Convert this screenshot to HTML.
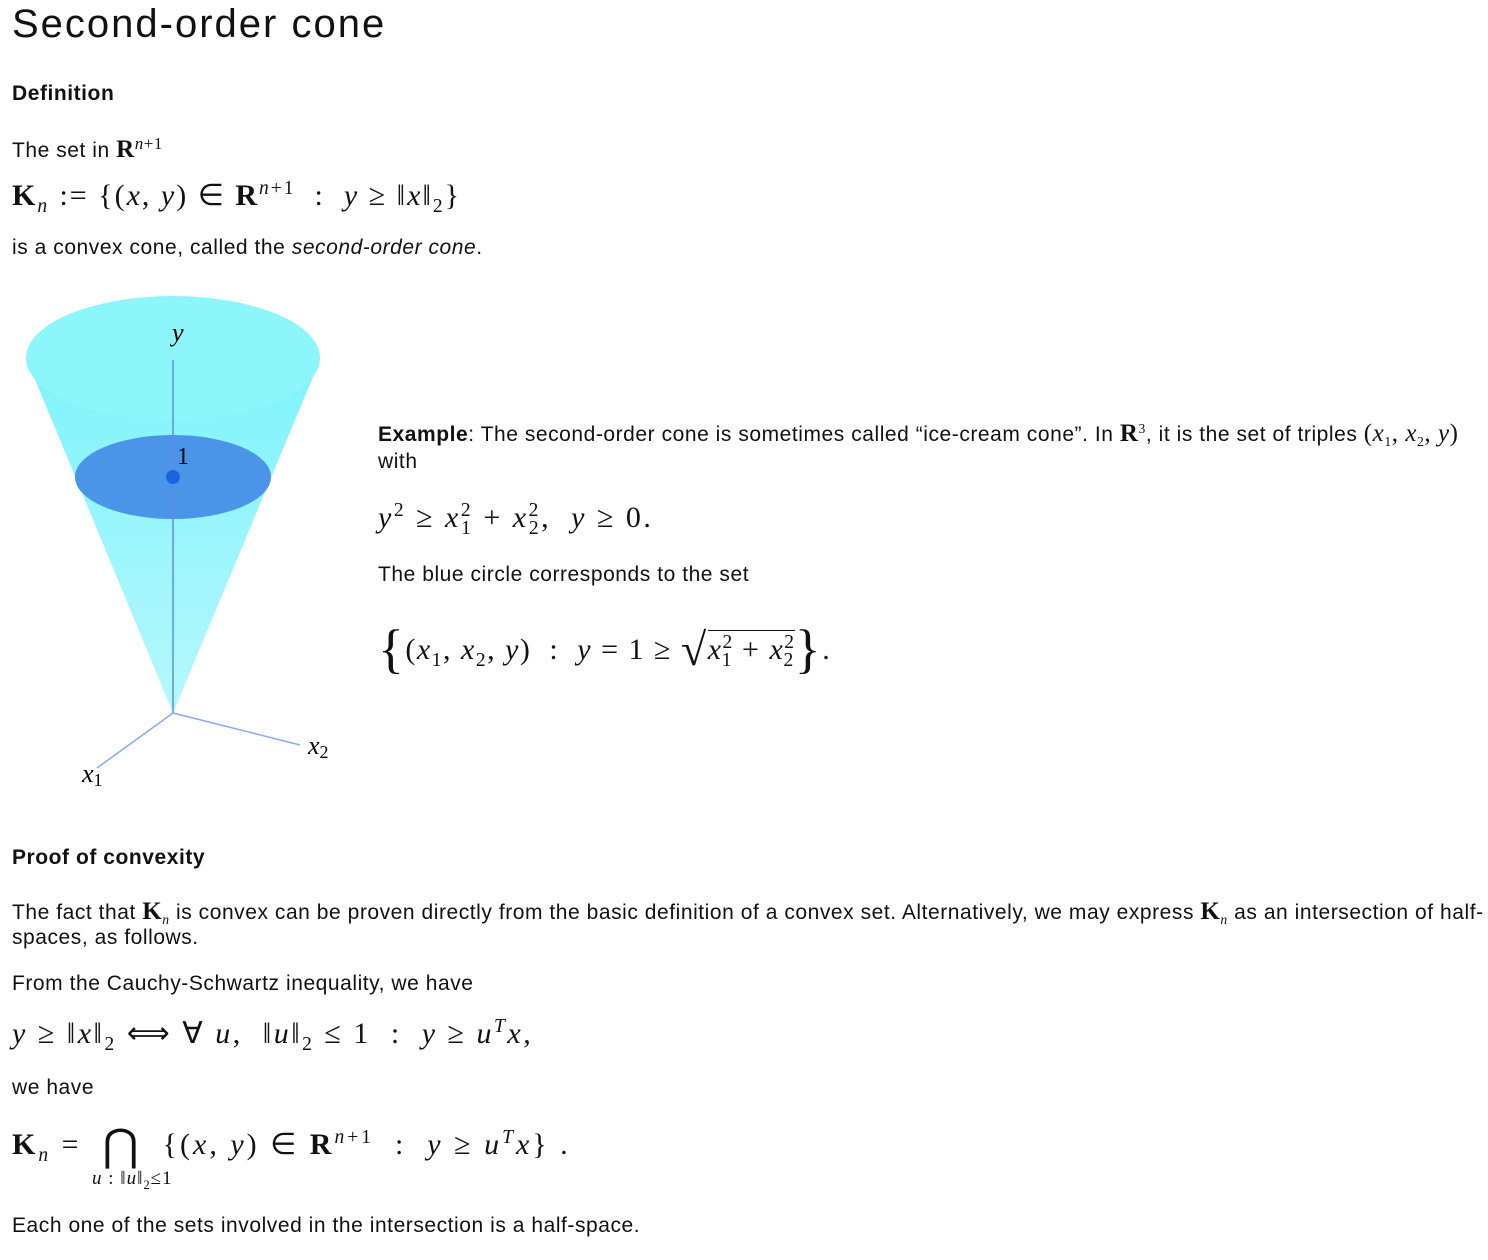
<!DOCTYPE html>
<html><head><meta charset="utf-8">
<style>
body{margin:0;width:1488px;height:1260px;background:#fff;font-family:"Liberation Sans",sans-serif;color:#111;position:relative;overflow:hidden}
.t{position:absolute;white-space:nowrap;font-size:21px;letter-spacing:0.55px}
.f{font-size:30px;letter-spacing:2.5px}
.m{font-family:"Liberation Serif",serif;font-style:italic}
.r{font-family:"Liberation Serif",serif;font-style:normal}
.b{font-family:"Liberation Serif",serif;font-weight:bold;font-style:normal}
sub,sup{font-size:65%}
</style></head><body>
<div class="t" style="left:12px;top:2px;font-size:40px;letter-spacing:2px;">Second-order cone</div>
<div class="t" style="left:12px;top:82px;font-weight:bold;">Definition</div>
<div class="t" style="left:12px;top:134px;">The set in <span class="b" style="font-size:25px">R</span><sup class="m" style="font-size:17px">n</sup><sup class="r" style="font-size:17px">+1</sup></div>
<div class="t f" style="left:12px;top:178px;letter-spacing:2px;"><span class="b">K</span><sub class="m">n</sub> <span class="r">:= {(</span><span class="m">x</span><span class="r">, </span><span class="m">y</span><span class="r">) ∈ </span><span class="b">R</span><sup class="m">n</sup><sup class="r">+1</sup><span class="r">&nbsp; : &nbsp;</span><span class="m">y</span><span class="r"> ≥ ‖</span><span class="m">x</span><span class="r">‖<sub>2</sub>}</span></div>
<div class="t" style="left:12px;top:236px;">is a convex cone, called the <i>second-order cone</i>.</div>

<svg style="position:absolute;left:0;top:280px" width="370" height="520" viewBox="0 280 370 520">
<defs><linearGradient id="g" x1="0" y1="0" x2="0" y2="1"><stop offset="0" stop-color="#7ff3fb"/><stop offset="1" stop-color="#b5f8fc"/></linearGradient></defs>
<polygon points="27,360 320,360 173,713" fill="url(#g)"/>
<ellipse cx="173" cy="358" rx="147" ry="62" fill="#8df6fb"/>
<ellipse cx="173" cy="477" rx="98" ry="42" fill="#4a95e8"/>
<line x1="173" y1="360" x2="173" y2="713" stroke="#5b8ff0" stroke-width="1.5"/>
<line x1="173" y1="713" x2="300" y2="745" stroke="#8aa8f2" stroke-width="1.5"/>
<line x1="173" y1="713" x2="97" y2="768" stroke="#8aa8f2" stroke-width="1.5"/>
<circle cx="173" cy="477" r="7" fill="#1a66e0"/>
<text x="172" y="341" font-family="Liberation Serif" font-style="italic" font-size="26">y</text>
<text x="177" y="464" font-family="Liberation Serif" font-size="24">1</text>
<text x="308" y="754" font-family="Liberation Serif" font-style="italic" font-size="26">x<tspan font-style="normal" font-size="18" dy="4">2</tspan></text>
<text x="82" y="782" font-family="Liberation Serif" font-style="italic" font-size="26">x<tspan font-style="normal" font-size="18" dy="4">1</tspan></text>
</svg>

<div class="t" style="left:378px;top:420px;"><b>Example</b>: The second-order cone is sometimes called “ice-cream cone”. In <span class="b" style="font-size:25px">R</span><sup class="r">3</sup>, it is the set of triples <span class="r" style="font-size:25px">(</span><span class="m" style="font-size:25px">x</span><sub class="r">1</sub><span class="r" style="font-size:25px">, </span><span class="m" style="font-size:25px">x</span><sub class="r">2</sub><span class="r" style="font-size:25px">, </span><span class="m" style="font-size:25px">y</span><span class="r" style="font-size:25px">)</span></div>
<div class="t" style="left:378px;top:450px;">with</div>
<div class="t f" style="left:378px;top:500px;"><span class="m">y</span><sup class="r">2</sup><span class="r"> ≥ </span><span class="m">x</span><sup class="r">2</sup><sub class="r" style="margin-left:-12px">1</sub><span class="r"> + </span><span class="m">x</span><sup class="r">2</sup><sub class="r" style="margin-left:-12px">2</sub><span class="r">, &nbsp;</span><span class="m">y</span><span class="r"> ≥ 0.</span></div>
<div class="t" style="left:378px;top:563px;">The blue circle corresponds to the set</div>
<div class="t f" style="left:378px;top:618px;letter-spacing:1.5px;"><span class="r" style="font-size:54px;vertical-align:-8px">{</span><span class="r">(</span><span class="m">x</span><sub class="r">1</sub><span class="r">, </span><span class="m">x</span><sub class="r">2</sub><span class="r">, </span><span class="m">y</span><span class="r">) &nbsp;: &nbsp;</span><span class="m">y</span><span class="r"> = 1 ≥ </span><span class="r" style="font-size:46px;vertical-align:-6px">√</span><span style="border-top:1.5px solid #111;padding-top:2px"><span class="m">x</span><sup class="r">2</sup><sub class="r" style="margin-left:-12px">1</sub><span class="r"> + </span><span class="m">x</span><sup class="r">2</sup><sub class="r" style="margin-left:-12px">2</sub></span><span class="r" style="font-size:54px;vertical-align:-8px">}</span><span class="r">.</span></div>

<div class="t" style="left:12px;top:846px;font-weight:bold;">Proof of convexity</div>
<div class="t" style="left:12px;top:898px;">The fact that <span class="b" style="font-size:25px">K</span><sub class="m">n</sub> is convex can be proven directly from the basic definition of a convex set. Alternatively, we may express <span class="b" style="font-size:25px">K</span><sub class="m">n</sub> as an intersection of half-</div>
<div class="t" style="left:12px;top:926px;">spaces, as follows.</div>
<div class="t" style="left:12px;top:972px;">From the Cauchy-Schwartz inequality, we have</div>
<div class="t f" style="left:12px;top:1016px;letter-spacing:2.5px;"><span class="m">y</span><span class="r"> ≥ ‖</span><span class="m">x</span><span class="r">‖<sub>2</sub> ⟺ ∀ </span><span class="m">u</span><span class="r">, &nbsp;‖</span><span class="m">u</span><span class="r">‖<sub>2</sub> ≤ 1 &nbsp;: &nbsp;</span><span class="m">y</span><span class="r"> ≥ </span><span class="m">u</span><sup class="m">T</sup><span class="m">x</span><span class="r">,</span></div>
<div class="t" style="left:12px;top:1076px;">we have</div>
<div class="t f" style="left:12px;top:1120px;letter-spacing:3px;"><span class="b">K</span><sub class="m">n</sub><span class="r"> = &nbsp;<span style="font-size:44px;vertical-align:-6px">⋂</span> &nbsp;{(</span><span class="m">x</span><span class="r">, </span><span class="m">y</span><span class="r">) ∈ </span><span class="b">R</span><sup class="m">n</sup><sup class="r">+1</sup><span class="r">&nbsp; : &nbsp;</span><span class="m">y</span><span class="r"> ≥ </span><span class="m">u</span><sup class="m">T</sup><span class="m">x</span><span class="r">} .</span></div>
<div class="t" style="left:92px;top:1168px;font-size:19px;letter-spacing:1px;"><span class="m">u</span><span class="r"> : ‖</span><span class="m">u</span><span class="r">‖<sub>2</sub>≤1</span></div>
<div class="t" style="left:12px;top:1214px;">Each one of the sets involved in the intersection is a half-space.</div>
</body></html>
